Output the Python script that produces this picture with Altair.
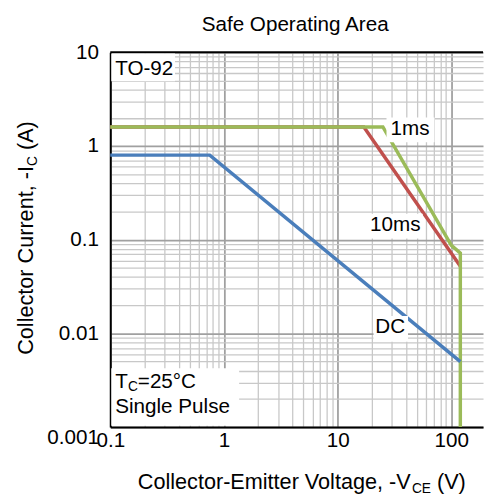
import altair as alt
import pandas as pd

# ---- data ----
dc_v = [0.1, 0.75, 120]
dc_i = [0.8, 0.8, 0.005]
ms10_v = [0.1, 17, 120]
ms10_i = [1.6, 1.6, 0.052]
ms1_v = [0.1, 25, 100, 120, 120]
ms1_i = [1.6, 1.6, 0.087, 0.072, 0.001]

x_decades = [0.1, 1, 10, 100]
y_decades = [0.001, 0.01, 0.1, 1, 10]
x_max = 190
x_ticks = [m * d for d in x_decades for m in range(1, 10) if m * d <= x_max]
y_ticks = [m * d for d in y_decades[:-1] for m in range(1, 10)] + [10]

ann_text = ["1ms", "10ms", "DC"]
ann_x = [43.3, 32.1, 29.0]
ann_y = [1.51, 0.1445, 0.0117]

box_x = [26.9, 18.0, 20.7, 0.102, 0.102]
box_x2 = [71.1, 56.0, 41.6, 0.371, 1.36]
box_y = [1.10, 0.103, 0.00814, 4.93, 0.00103]
box_y2 = [2.02, 0.189, 0.0153, 9.7, 0.00424]

note_x = 0.1105
to92_y = 6.59
tc_y = 0.00302
pulse_y = 0.00165

colors = {"10ms": "#c0504d", "1ms": "#9bbb59", "DC": "#4a7ebb"}
FONT = "Liberation Sans"
W, H = 379, 381

rows = []
for name, vs, cs in [("10ms", ms10_v, ms10_i), ("1ms", ms1_v, ms1_i), ("DC", dc_v, dc_i)]:
    for k, (v, c) in enumerate(zip(vs, cs)):
        rows.append({"series": name, "v": v, "i": c, "k": k})
df = pd.DataFrame(rows)

xscale = alt.Scale(type="log", domain=[0.1, x_max], nice=False)
yscale = alt.Scale(type="log", domain=[0.001, 10], nice=False)

x_dec_test = "indexof(" + str(x_decades) + ", datum.value) >= 0"
y_dec_test = "indexof(" + str(y_decades) + ", datum.value) >= 0"

MAJOR, MINOR = "#a0a0a0", "#c8c8c8"

x_axis = alt.Axis(
    values=x_ticks, format="~g", labelExpr=x_dec_test + " ? datum.label : ''",
    labelOverlap=False, labelFlush=False, ticks=False, tickSize=0,
    labelFont=FONT, labelFontSize=21, labelColor="black", labelPadding=3,
    domainColor="black", domainWidth=2, title=None,
    gridColor=alt.condition(x_dec_test, alt.value(MAJOR), alt.value(MINOR)),
    gridWidth=alt.condition(x_dec_test, alt.value(1.8), alt.value(1.3)),
)
y_axis = alt.Axis(
    values=y_ticks, format="~g", labelExpr=y_dec_test + " ? datum.label : ''",
    labelOverlap=False, labelFlush=False, ticks=False, tickSize=0,
    labelFont=FONT, labelFontSize=21, labelColor="black", labelPadding=12,
    labelBaseline=alt.condition("datum.value == 0.001", alt.value("top"), alt.value("middle")),
    domainColor="black", domainWidth=2, title=None,
    gridColor=alt.condition(y_dec_test, alt.value(MAJOR), alt.value(MINOR)),
    gridWidth=alt.condition(y_dec_test, alt.value(1.8), alt.value(1.3)),
)

base = alt.Chart(df)

grid_layer = base.mark_point(opacity=0).encode(
    x=alt.X("v:Q", scale=xscale, axis=x_axis),
    y=alt.Y("i:Q", scale=yscale, axis=y_axis),
)

one = pd.DataFrame({"a": [0]})
top_border = alt.Chart(one).mark_rule(color="black", strokeWidth=2).encode(
    x=alt.value(0), x2=alt.value(W), y=alt.value(0))

def line(name):
    return base.transform_filter(alt.datum.series == name).mark_line(
        strokeWidth=3.5, color=colors[name]
    ).encode(x=alt.X("v:Q", scale=xscale), y=alt.Y("i:Q", scale=yscale), order="k:Q")

boxes = alt.Chart(pd.DataFrame({"x": box_x, "x2": box_x2, "y": box_y, "y2": box_y2})).mark_rect(
    color="white").encode(
    x=alt.X("x:Q", scale=xscale), x2="x2:Q", y=alt.Y("y:Q", scale=yscale), y2="y2:Q")

ann = alt.Chart(pd.DataFrame({"t": ann_text, "x": ann_x, "y": ann_y})).mark_text(
    font=FONT, fontSize=21, color="black", align="center", baseline="middle").encode(
    x=alt.X("x:Q", scale=xscale), y=alt.Y("y:Q", scale=yscale), text="t:N")

def note(txt, y, dx=0, dy=0, size=21):
    return alt.Chart(pd.DataFrame({"x": [note_x], "y": [y]})).mark_text(
        font=FONT, fontSize=size, color="black", align="left", baseline="middle", dx=dx, dy=dy
    ).encode(x=alt.X("x:Q", scale=xscale), y=alt.Y("y:Q", scale=yscale), text=alt.value(txt))

def ptext(txt, x, y, size=22, align="left", angle=0, baseline="alphabetic"):
    return alt.Chart(one).mark_text(
        font=FONT, fontSize=size, color="black", align=align, baseline=baseline, angle=angle
    ).encode(x=alt.value(x), y=alt.value(y), text=alt.value(txt))

titles = [
    ptext("Safe Operating Area", 188, -22, size=21, align="center"),
    ptext("Collector-Emitter Voltage, -V", 28, 444),
    ptext("CE", 306.7, 448, size=14),
    ptext("(V)", 332.2, 444),
    ptext("Collector Current, -I", -79, 307.5, angle=270),
    ptext("C", -75, 115.5, size=14, angle=270),
    ptext("(A)", -79, 99.3, angle=270),
]

chart = alt.layer(
    grid_layer, top_border, line("10ms"), line("1ms"), line("DC"), boxes, ann,
    note("TO-92", to92_y),
    note("T", tc_y), note("C", tc_y, dx=13, dy=5, size=14), note("=25°C", tc_y, dx=23),
    note("Single Pulse", pulse_y),
    *titles,
).properties(
    width=W, height=H,
    autosize=alt.AutoSizeParams(type="none"),
    padding={"left": 104, "top": 41, "right": 1, "bottom": 66},
).configure_view(stroke=None)

chart.save("out.html", embed_options={"renderer": "svg", "actions": False})
